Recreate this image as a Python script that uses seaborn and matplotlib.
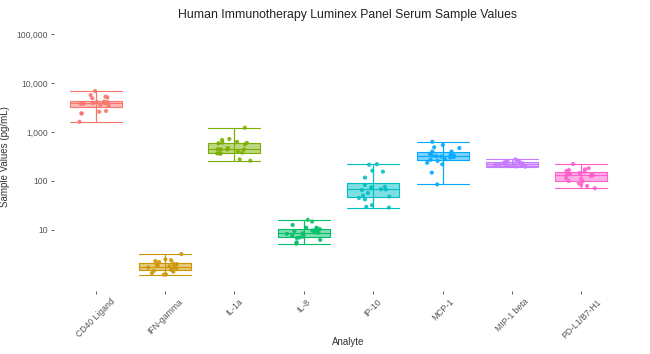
import numpy as np
import pandas as pd
import matplotlib
matplotlib.use("Agg")
import matplotlib.pyplot as plt
import matplotlib.ticker as mticker
import seaborn as sns

# values (pg/mL), one list per analyte
analytes = ["CD40 Ligand", "IFN-gamma", "IL-1a", "IL-8", "IP-10", "MCP-1", "MIP-1 beta", "PD-L1/B7-H1"]
cd40 = [6900, 5300, 5100, 4900, 5700, 4100, 3900, 4200, 3800, 3600,
        3500, 4000, 4100, 3900, 2700, 2400, 2400, 2600, 1620, 3800]
ifn = [3.2, 2.5, 2.4, 2.3, 2.2, 2.05, 2.0, 1.95, 1.85, 1.8,
       1.75, 1.7, 1.65, 1.55, 1.5, 1.45, 1.4, 1.3, 1.22, 1.22]
il1a = [1225, 720, 687, 610, 600, 590, 630, 560, 470, 444,
        444, 440, 440, 400, 380, 372, 365, 360, 276, 260]
il8 = [16.0, 14.8, 12.6, 11.1, 11.1, 10.4, 10.2, 9.7, 9.5, 8.9,
       8.7, 8.5, 8.3, 7.6, 7.3, 7.0, 6.8, 6.25, 5.6, 5.2]
ip10 = [215, 220, 162, 155, 117, 83, 74, 76, 57, 68,
        65, 70, 67, 50, 48, 45, 42, 32, 28.5, 29.5]
mcp1 = [632, 543, 488, 470, 400, 400, 360, 341, 335, 330, 320,
        315, 310, 300, 280, 270, 257, 235, 219, 148, 85]
mip1b = [277, 260, 250, 248, 246, 244, 240, 235, 230, 225,
         220, 215, 212, 208, 205, 204, 202, 200, 198, 196]
pdl1 = [222, 182, 167, 160, 173, 155, 145, 140, 138, 136, 133,
        130, 125, 115, 110, 100, 98, 90, 83, 79, 71]

values = [cd40, ifn, il1a, il8, ip10, mcp1, mip1b, pdl1]
colors = ["#F8766D", "#CD9600", "#7CAE00", "#00BE67", "#00BFC4", "#00A9FF", "#C77CFF", "#FF61CC"]
y_ticks = [10, 100, 1000, 10000, 100000]

df = pd.DataFrame({
    "Analyte": np.repeat(analytes, [len(v) for v in values]),
    "Value": np.concatenate(values),
})
pal = dict(zip(analytes, colors))

sns.set_style("white")
plt.rcParams["font.family"] = ["Liberation Sans", "DejaVu Sans"]

fig = plt.figure(figsize=(6.5, 3.54), dpi=100)
ax = fig.add_axes([54 / 650, 1 - 291 / 354, 569 / 650, 269 / 354])
ax.set_yscale("log")

# min-max line through the middle of each box
stats = df.groupby("Analyte", sort=False)["Value"].agg(["min", "max"]).reindex(analytes)
ax.vlines(range(len(analytes)), stats["min"], stats["max"], colors=colors, lw=0.8, zorder=1)

# translucent fill
sns.boxplot(data=df, x="Analyte", y="Value", hue="Analyte", palette=pal, order=analytes,
            width=0.75, whis=(0, 100), showfliers=False, linewidth=0, showcaps=False,
            saturation=1, legend=False, ax=ax)
for p in ax.patches:
    fc = p.get_facecolor()
    p.set_facecolor((fc[0], fc[1], fc[2], 0.5))
    p.set_edgecolor("none")

# coloured outlines, caps the full box width
sns.boxplot(data=df, x="Analyte", y="Value", hue="Analyte", palette=pal, order=analytes,
            width=0.75, whis=(0, 100), showfliers=False, fill=False, linewidth=0.8,
            capwidths=0.75, saturation=1, legend=False, ax=ax)

sns.stripplot(data=df, x="Analyte", y="Value", hue="Analyte", palette=pal, order=analytes,
              jitter=0.25, size=3.0, linewidth=0, alpha=0.9, legend=False, ax=ax, zorder=3)

ax.set_xlim(-0.6, len(analytes) - 0.4)
ax.set_ylim(10 ** -0.25, 10 ** 5.25)
ax.set_yticks(y_ticks)
ax.yaxis.set_major_formatter(mticker.FuncFormatter(lambda v, p: f"{v:,.0f}"))
ax.yaxis.set_minor_locator(mticker.NullLocator())

for s in ax.spines.values():
    s.set_visible(False)
ax.tick_params(axis="both", length=2.5, width=0.6, color="#444444",
               labelsize=6.2, labelcolor="#555555", pad=2)
ax.tick_params(axis="x", bottom=True)
ax.tick_params(axis="y", left=True)
plt.setp(ax.get_xticklabels(), rotation=45, ha="center", va="top")

ax.set_title("Human Immunotherapy Luminex Panel Serum Sample Values",
             fontsize=8.8, color="#222222", x=(348 - 54) / 569, pad=3)
ax.set_xlabel("Analyte", fontsize=7, color="#333333")
ax.xaxis.set_label_coords((348 - 54) / 569, -0.17)
ax.set_ylabel("Sample Values (pg/mL)", fontsize=7, color="#333333")
ax.yaxis.set_label_coords(-0.077, 0.5)

fig.savefig("out.png", dpi=100)
